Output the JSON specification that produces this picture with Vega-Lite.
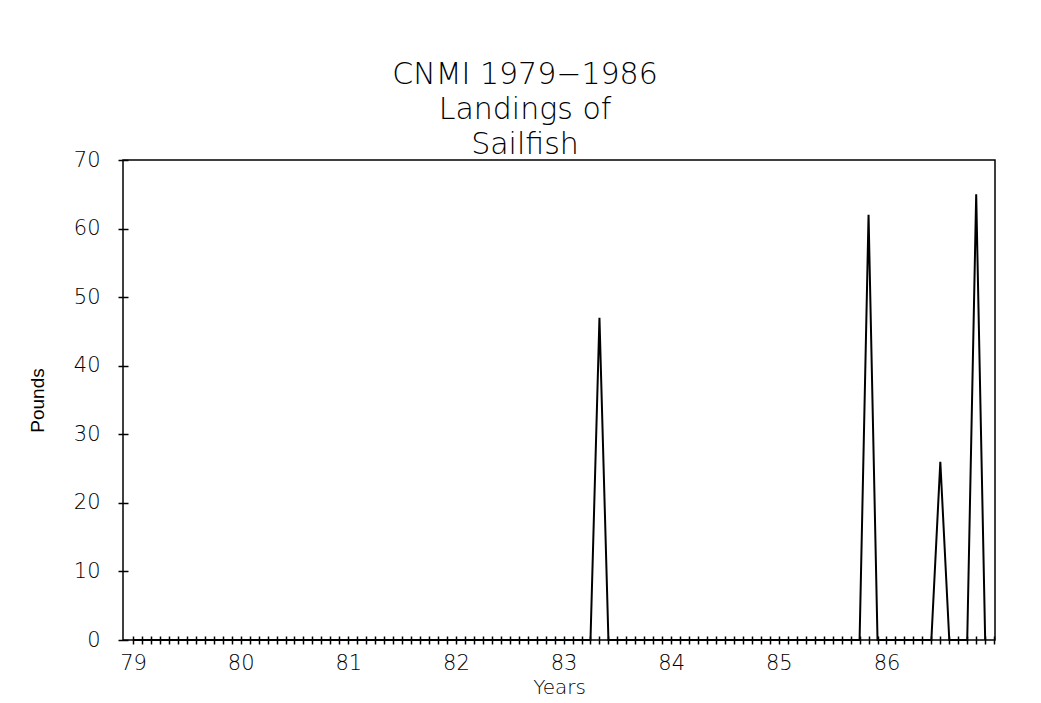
{
  "$schema": "https://vega.github.io/schema/vega-lite/v6.json",
  "autosize": "none",
  "width": 872,
  "height": 480,
  "padding": {"left": 123, "top": 160, "right": 46, "bottom": 63},
  "background": "white",
  "config": {
    "view": {"stroke": "black", "strokeWidth": 1.5},
    "font": "DejaVu Sans"
  },
  "title": {
    "text": ["CNMI 1979−1986", "Landings of", "Sailfish"],
    "font": "DejaVu Sans",
    "fontSize": 30,
    "fontWeight": 200,
    "lineHeight": 35,
    "color": "black",
    "anchor": "middle",
    "dx": -34,
    "offset": -11
  },
  "data": {
    "values": [
      {"t": 79, "pounds": 0}, {"t": 79.0833, "pounds": 0}, {"t": 79.1667, "pounds": 0}, {"t": 79.25, "pounds": 0}, {"t": 79.3333, "pounds": 0}, {"t": 79.4167, "pounds": 0}, {"t": 79.5, "pounds": 0}, {"t": 79.5833, "pounds": 0}, {"t": 79.6667, "pounds": 0}, {"t": 79.75, "pounds": 0}, {"t": 79.8333, "pounds": 0}, {"t": 79.9167, "pounds": 0},
      {"t": 80, "pounds": 0}, {"t": 80.0833, "pounds": 0}, {"t": 80.1667, "pounds": 0}, {"t": 80.25, "pounds": 0}, {"t": 80.3333, "pounds": 0}, {"t": 80.4167, "pounds": 0}, {"t": 80.5, "pounds": 0}, {"t": 80.5833, "pounds": 0}, {"t": 80.6667, "pounds": 0}, {"t": 80.75, "pounds": 0}, {"t": 80.8333, "pounds": 0}, {"t": 80.9167, "pounds": 0},
      {"t": 81, "pounds": 0}, {"t": 81.0833, "pounds": 0}, {"t": 81.1667, "pounds": 0}, {"t": 81.25, "pounds": 0}, {"t": 81.3333, "pounds": 0}, {"t": 81.4167, "pounds": 0}, {"t": 81.5, "pounds": 0}, {"t": 81.5833, "pounds": 0}, {"t": 81.6667, "pounds": 0}, {"t": 81.75, "pounds": 0}, {"t": 81.8333, "pounds": 0}, {"t": 81.9167, "pounds": 0},
      {"t": 82, "pounds": 0}, {"t": 82.0833, "pounds": 0}, {"t": 82.1667, "pounds": 0}, {"t": 82.25, "pounds": 0}, {"t": 82.3333, "pounds": 0}, {"t": 82.4167, "pounds": 0}, {"t": 82.5, "pounds": 0}, {"t": 82.5833, "pounds": 0}, {"t": 82.6667, "pounds": 0}, {"t": 82.75, "pounds": 0}, {"t": 82.8333, "pounds": 0}, {"t": 82.9167, "pounds": 0},
      {"t": 83, "pounds": 0}, {"t": 83.0833, "pounds": 0}, {"t": 83.1667, "pounds": 0}, {"t": 83.25, "pounds": 0}, {"t": 83.3333, "pounds": 47}, {"t": 83.4167, "pounds": 0}, {"t": 83.5, "pounds": 0}, {"t": 83.5833, "pounds": 0}, {"t": 83.6667, "pounds": 0}, {"t": 83.75, "pounds": 0}, {"t": 83.8333, "pounds": 0}, {"t": 83.9167, "pounds": 0},
      {"t": 84, "pounds": 0}, {"t": 84.0833, "pounds": 0}, {"t": 84.1667, "pounds": 0}, {"t": 84.25, "pounds": 0}, {"t": 84.3333, "pounds": 0}, {"t": 84.4167, "pounds": 0}, {"t": 84.5, "pounds": 0}, {"t": 84.5833, "pounds": 0}, {"t": 84.6667, "pounds": 0}, {"t": 84.75, "pounds": 0}, {"t": 84.8333, "pounds": 0}, {"t": 84.9167, "pounds": 0},
      {"t": 85, "pounds": 0}, {"t": 85.0833, "pounds": 0}, {"t": 85.1667, "pounds": 0}, {"t": 85.25, "pounds": 0}, {"t": 85.3333, "pounds": 0}, {"t": 85.4167, "pounds": 0}, {"t": 85.5, "pounds": 0}, {"t": 85.5833, "pounds": 0}, {"t": 85.6667, "pounds": 0}, {"t": 85.75, "pounds": 0}, {"t": 85.8333, "pounds": 62}, {"t": 85.9167, "pounds": 0},
      {"t": 86, "pounds": 0}, {"t": 86.0833, "pounds": 0}, {"t": 86.1667, "pounds": 0}, {"t": 86.25, "pounds": 0}, {"t": 86.3333, "pounds": 0}, {"t": 86.4167, "pounds": 0}, {"t": 86.5, "pounds": 26}, {"t": 86.5833, "pounds": 0}, {"t": 86.6667, "pounds": 0}, {"t": 86.75, "pounds": 0}, {"t": 86.8333, "pounds": 65}, {"t": 86.9167, "pounds": 0}
    ]
  },
  "mark": {"type": "line", "color": "black", "strokeWidth": 2, "strokeJoin": "miter"},
  "encoding": {
    "x": {
      "field": "t",
      "type": "quantitative",
      "scale": {"domain": [78.907, 87.008], "nice": false, "zero": false},
      "axis": {
        "title": "Years",
        "titleFont": "DejaVu Sans",
        "titleFontSize": 20,
        "titleFontWeight": 200,
        "titleColor": "black",
        "titlePadding": 4,
        "values": [79, 79.0833, 79.1667, 79.25, 79.3333, 79.4167, 79.5, 79.5833, 79.6667, 79.75, 79.8333, 79.9167,
                   80, 80.0833, 80.1667, 80.25, 80.3333, 80.4167, 80.5, 80.5833, 80.6667, 80.75, 80.8333, 80.9167,
                   81, 81.0833, 81.1667, 81.25, 81.3333, 81.4167, 81.5, 81.5833, 81.6667, 81.75, 81.8333, 81.9167,
                   82, 82.0833, 82.1667, 82.25, 82.3333, 82.4167, 82.5, 82.5833, 82.6667, 82.75, 82.8333, 82.9167,
                   83, 83.0833, 83.1667, 83.25, 83.3333, 83.4167, 83.5, 83.5833, 83.6667, 83.75, 83.8333, 83.9167,
                   84, 84.0833, 84.1667, 84.25, 84.3333, 84.4167, 84.5, 84.5833, 84.6667, 84.75, 84.8333, 84.9167,
                   85, 85.0833, 85.1667, 85.25, 85.3333, 85.4167, 85.5, 85.5833, 85.6667, 85.75, 85.8333, 85.9167,
                   86, 86.0833, 86.1667, 86.25, 86.3333, 86.4167, 86.5, 86.5833, 86.6667, 86.75, 86.8333, 86.9167, 87],
        "labelExpr": "abs(datum.value - round(datum.value)) < 0.01 && datum.value < 86.5 ? format(datum.value, 'd') : ''",
        "labelFont": "DejaVu Sans",
        "labelFontSize": 21,
        "labelFontWeight": 200,
        "labelColor": "black",
        "labelPadding": 8,
        "labelOverlap": false,
        "labelFlush": false,
        "domain": false,
        "grid": false,
        "offset": -4,
        "tickSize": 8,
        "tickColor": "black",
        "tickWidth": 1.5
      }
    },
    "y": {
      "field": "pounds",
      "type": "quantitative",
      "scale": {"domain": [0, 70], "nice": false},
      "axis": {
        "title": "Pounds",
        "titleFont": "Liberation Sans",
        "titleFontSize": 19,
        "titleFontWeight": "normal",
        "titleColor": "black",
        "titlePadding": 26,
        "values": [0, 10, 20, 30, 40, 50, 60, 70],
        "labelFont": "DejaVu Sans",
        "labelFontSize": 21,
        "labelFontWeight": 200,
        "labelColor": "black",
        "labelPadding": 18,
        "domain": false,
        "grid": false,
        "offset": -5,
        "tickSize": 10,
        "tickColor": "black",
        "tickWidth": 1.5
      }
    }
  }
}
